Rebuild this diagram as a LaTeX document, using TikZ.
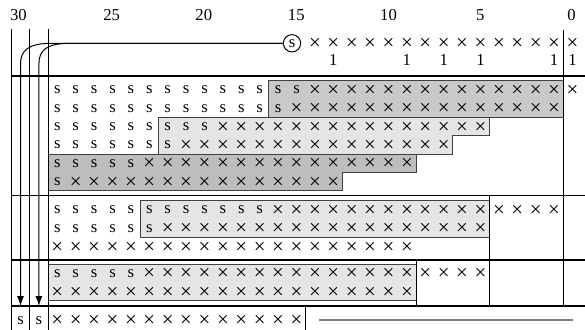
\documentclass[tikz,border=0pt]{standalone}
\usepackage{fontspec}
\setmainfont{Liberation Serif}
\usetikzlibrary{arrows.meta}
\definecolor{boxdark}{gray}{0.79}
\definecolor{boxmid}{gray}{0.74}
\definecolor{boxlight}{gray}{0.90}
\definecolor{boxedge}{gray}{0.25}
\definecolor{ruleg}{gray}{0.5}
\newcommand\cellrun[5]{\foreach \cc in {#3,...,#4}{\node[cellnode] (r#1c\cc) at ({572.5-18.4*\cc},#2) {#5};}}
\newcommand\crs{\raisebox{-1.5pt}{\fontsize{12.5}{13}\selectfont ×}}
\begin{document}
\begin{tikzpicture}[x=0.6pt,y=-0.6pt,
  cellnode/.style={anchor=center,inner sep=0pt,text height=4.6pt,text depth=0pt,font=\fontsize{10}{12}\selectfont},
  numnode/.style={anchor=base,inner sep=0pt,font=\fontsize{10}{12}\selectfont},
  rule/.style={line width=0.6pt},
  secline/.style={line width=0.9pt},
  shadebox/.style={draw=boxedge,line width=0.6pt},
  arr/.style={line width=0.6pt,-{Latex[length=6pt,width=4.2pt]}}]
\useasboundingbox (0,0) rectangle (585,330);

% shaded blocks
\filldraw[shadebox,fill=boxdark] (268.9,80.8) rectangle (563.3,117.5);
\filldraw[shadebox,fill=boxlight] (158.5,117.5) -- (489.7,117.5) -- (489.7,135.8) -- (452.9,135.8) -- (452.9,154.2) -- (158.5,154.2) -- cycle;
\filldraw[shadebox,fill=boxmid] (48.1,154.2) -- (416.1,154.2) -- (416.1,172.5) -- (342.5,172.5) -- (342.5,190.8) -- (48.1,190.8) -- cycle;
\filldraw[shadebox,fill=boxlight] (140.1,200.8) rectangle (489.7,237.5);
\filldraw[shadebox,fill=boxlight] (48.1,264.1) rectangle (416.1,300.9);

% rules
\foreach \yy in {76,195.5,260,306} \draw[secline] (11,\yy) -- (585,\yy);
\foreach \xx in {11,29.7,48.1} \draw[rule] (\xx,29) -- (\xx,330);
\draw[rule] (563.3,30) -- (563.3,306);
\draw[rule] (489.7,195.5) -- (489.7,306);
\draw[rule] (416.1,260) -- (416.1,306);
\draw[rule] (305.7,306) -- (305.7,330);
\draw[ruleg,line width=1pt] (319,320) -- (573,320);

% column numbers
\node[numnode] (n30) at (18.5,21) {30};
\node[numnode] (n25) at (111.7,21) {25};
\node[numnode] (n20) at (203.8,21) {20};
\node[numnode] (n15) at (296.3,21) {15};
\node[numnode] (n10) at (388.5,21) {10};
\node[numnode] (n5) at (480.3,21) {5};
\node[numnode] (n0) at (571.5,21) {0};

% top row
\node[draw,circle,minimum size=10.4pt,inner sep=0pt,line width=0.6pt,font=\fontsize{10}{12}\selectfont] (sb) at (292,43.3) {s};
\cellrun{0}{42.8}{14}{0}{\crs}
\foreach \cc in {13,9,7,5,1,0} \node[numnode] (one\cc) at ({572.5-18.4*\cc},65.2) {1};

% section 1
\cellrun{1}{90}{28}{15}{s}\cellrun{1}{90}{14}{0}{\crs}
\cellrun{2}{108.3}{28}{16}{s}\cellrun{2}{108.3}{15}{1}{\crs}
\cellrun{3}{126.7}{28}{20}{s}\cellrun{3}{126.7}{19}{5}{\crs}
\cellrun{4}{145}{28}{22}{s}\cellrun{4}{145}{21}{7}{\crs}
\cellrun{5}{163.3}{28}{24}{s}\cellrun{5}{163.3}{23}{9}{\crs}
\cellrun{6}{181.7}{28}{28}{s}\cellrun{6}{181.7}{27}{13}{\crs}
% section 2
\cellrun{7}{210}{28}{17}{s}\cellrun{7}{210}{16}{1}{\crs}
\cellrun{8}{228.3}{28}{23}{s}\cellrun{8}{228.3}{22}{5}{\crs}
\cellrun{9}{246.7}{28}{9}{\crs}
% section 3
\cellrun{10}{273.3}{28}{24}{s}\cellrun{10}{273.3}{23}{5}{\crs}
\cellrun{11}{291.7}{28}{9}{\crs}
% bottom row
\cellrun{12}{320.5}{30}{29}{s}\cellrun{12}{320.5}{28}{15}{\crs}

% sign extension arrows
\coordinate (t30) at (20.5,306);
\coordinate (t29) at (38.9,306);
\draw[arr] (sb.west) -- (52,43.3) .. controls (29,43.3) and (20.5,50) .. (20.5,64) -- (t30);
\draw[arr] (sb.west) -- (70,43.3) .. controls (47,43.3) and (38.9,50) .. (38.9,64) -- (t29);
\end{tikzpicture}
\end{document}
